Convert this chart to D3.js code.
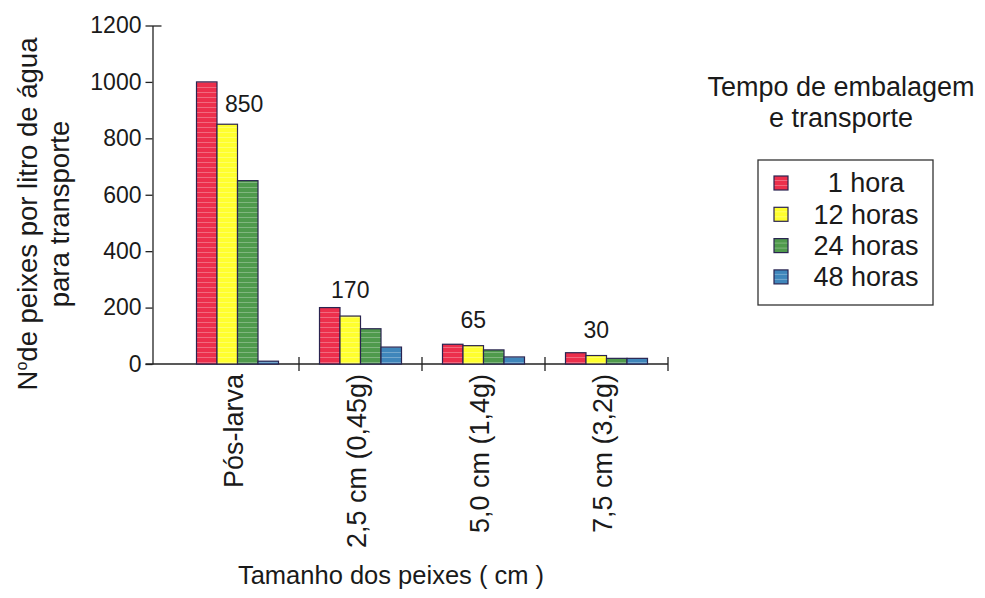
<!DOCTYPE html>
<html>
<head>
<meta charset="utf-8">
<script src="https://cdn.jsdelivr.net/npm/d3@7"></script>
<style>
  html, body { margin: 0; padding: 0; background: #ffffff; }
  svg { display: block; }
  text { font-family: "Liberation Sans", Arial, sans-serif; fill: #1a1a1a; }
</style>
</head>
<body>
<svg id="chart" width="985" height="598"></svg>
<script>
// ---- Data ----
const categories = ["Pós-larva", "2,5 cm (0,45g)", "5,0 cm (1,4g)", "7,5 cm (3,2g)"];
const seriesNames = ["1 hora", "12 horas", "24 horas", "48 horas"];
const values1h  = [1000, 200, 70, 40];
const values12h = [850, 170, 65, 30];
const values24h = [650, 125, 50, 20];
const values48h = [10, 60, 25, 20];
const yTicks = [0, 200, 400, 600, 800, 1000, 1200];
const labelSeries = "12 horas";   // value labels shown above this series
const seriesColors = ["#ec2f4c", "#ffff2e", "#4f9a4c", "#3f86bb"];

const seriesValues = [values1h, values12h, values24h, values48h];

// ---- Layout ----
const svg = d3.select("#chart");
const yAxisX = 152.5;
const x0 = d3.scaleBand().domain(categories).range([176, 668]).paddingInner(0).paddingOuter(0);
const x1 = d3.scaleBand().domain(seriesNames).range([0, x0.bandwidth()]).paddingInner(0).paddingOuter(1);
const y = d3.scaleLinear().domain([0, 1200]).range([364, 25.5]);
const color = d3.scaleOrdinal().domain(seriesNames).range(seriesColors);

// striped fills imitating the printed texture
const defs = svg.append("defs");
seriesNames.forEach((s, i) => {
  const p = defs.append("pattern").attr("id", "pat" + i).attr("patternUnits", "userSpaceOnUse")
    .attr("width", 6).attr("height", 5);
  p.append("rect").attr("width", 6).attr("height", 5).attr("fill", seriesColors[i]);
  p.append("rect").attr("y", 2).attr("width", 6).attr("height", 1).attr("fill", "#ffffff").attr("opacity", 0.28);
});
const fillOf = s => `url(#pat${seriesNames.indexOf(s)})`;

// ---- Y axis ----
const yAxis = d3.axisLeft(y).tickValues(yTicks).tickFormat(d3.format("d"))
  .tickSize(7).tickSizeOuter(0).tickPadding(4);
const gy = svg.append("g").attr("transform", `translate(${yAxisX},0)`).call(yAxis);
gy.select(".domain").attr("stroke", "#222").attr("stroke-width", 1.3);
gy.selectAll(".tick line").attr("stroke", "#222").attr("stroke-width", 1.3);
gy.selectAll(".tick text").attr("font-size", 23).attr("font-family", "Liberation Sans, Arial, sans-serif").attr("fill", "#1a1a1a");
// top tick crosses the axis
gy.selectAll(".tick").filter(d => d === 1200).select("line").attr("x1", 9);

// ---- X axis (separator ticks) ----
const sepTicks = categories.map(c => x0(c) + x0.bandwidth());
const gx = svg.append("g");
gx.append("line").attr("x1", yAxisX - 7).attr("x2", x0.range()[1]).attr("y1", y(0)).attr("y2", y(0))
  .attr("stroke", "#222").attr("stroke-width", 1.3);
gx.selectAll("line.sep").data(sepTicks).join("line").attr("class", "sep")
  .attr("x1", d => d).attr("x2", d => d).attr("y1", y(0) - 7).attr("y2", y(0) + 7)
  .attr("stroke", "#222").attr("stroke-width", 1.3);

// ---- Bars ----
const groups = svg.append("g").selectAll("g").data(categories).join("g")
  .attr("transform", c => `translate(${x0(c)},0)`);
groups.selectAll("rect").data((c, ci) => seriesNames.map((s, si) => ({ s, v: seriesValues[si][ci] })))
  .join("rect")
  .attr("x", d => x1(d.s))
  .attr("y", d => y(d.v))
  .attr("width", x1.bandwidth())
  .attr("height", d => y(0) - y(d.v))
  .attr("fill", d => fillOf(d.s))
  .attr("stroke", "#2a2450")
  .attr("stroke-width", 1.2);

// ---- Value labels ----
const li = seriesNames.indexOf(labelSeries);
const lbl = svg.append("g");
categories.forEach((c, ci) => {
  const v = seriesValues[li][ci];
  const cx = x0(c) + x1(labelSeries) + x1.bandwidth() / 2;
  const ly = y(v) - (v > 500 ? 12 : 18);
  const t = lbl.append("text").attr("x", cx).attr("y", ly).attr("font-size", 23)
    .attr("text-anchor", "middle").text(v);
  // avoid overlapping the taller neighbouring bar
  const redTop = y(seriesValues[0][ci]);
  const w = t.node().getComputedTextLength();
  const leftEdge = cx - w / 2;
  const redRight = x0(c) + x1(seriesNames[0]) + x1.bandwidth();
  if (redTop < ly && leftEdge < redRight + 6) {
    t.attr("x", redRight + 8 + w / 2);
  }
});

// ---- Category labels (rotated) ----
svg.append("g").selectAll("text").data(categories).join("text")
  .attr("transform", c => `translate(${x0(c) + x0.bandwidth() / 2 - 4},374) rotate(-90)`)
  .attr("text-anchor", "end").attr("dy", "0.36em")
  .attr("font-size", 27)
  .text(c => c);

// ---- Axis titles ----
svg.append("text").attr("x", 391).attr("y", 584).attr("text-anchor", "middle")
  .attr("font-size", 25.5).text("Tamanho dos peixes ( cm )");

const yt = svg.append("text").attr("transform", "translate(37,214) rotate(-90)")
  .attr("text-anchor", "middle").attr("font-size", 27.5);
yt.append("tspan").text("N");
yt.append("tspan").attr("font-size", 16).attr("dy", -10).text("o");
yt.append("tspan").attr("dy", 10).text("de peixes por litro de água");
svg.append("text").attr("transform", "translate(69,214) rotate(-90)")
  .attr("text-anchor", "middle").attr("font-size", 27.5).text("para transporte");

// ---- Legend ----
svg.append("text").attr("x", 841).attr("y", 96).attr("text-anchor", "middle")
  .attr("font-size", 27).text("Tempo de embalagem");
svg.append("text").attr("x", 841).attr("y", 127).attr("text-anchor", "middle")
  .attr("font-size", 27).text("e transporte");
svg.append("rect").attr("x", 758).attr("y", 160).attr("width", 175).attr("height", 145)
  .attr("fill", "none").attr("stroke", "#333").attr("stroke-width", 1.3);
const leg = svg.append("g").selectAll("g").data(seriesNames).join("g")
  .attr("transform", (d, i) => `translate(0,${183 + i * 31.3})`);
leg.append("rect").attr("x", 774).attr("y", -7).attr("width", 14).attr("height", 14)
  .attr("fill", d => fillOf(d)).attr("stroke", "#2a2450").attr("stroke-width", 1.2);
leg.append("text").attr("x", 866).attr("y", 0).attr("dy", "0.35em")
  .attr("text-anchor", "middle").attr("font-size", 27).text(d => d);
</script>
</body>
</html>
